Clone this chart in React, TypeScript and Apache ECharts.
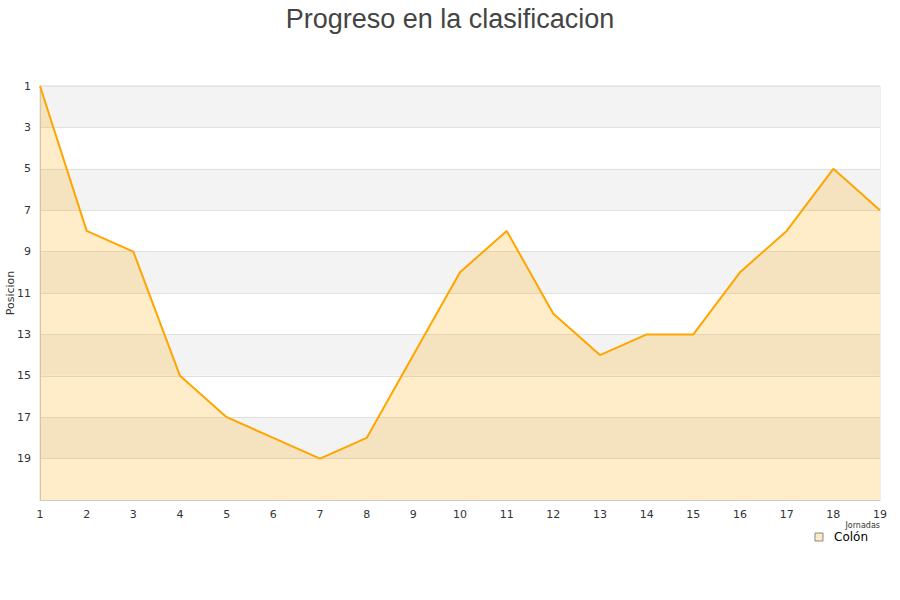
import React, { useEffect, useRef } from "react";
import * as echarts from "echarts";

const jornadas = ["1","2","3","4","5","6","7","8","9","10","11","12","13","14","15","16","17","18","19"];
const posiciones = [1, 8, 9, 15, 17, 18, 19, 18, 14, 10, 8, 12, 14, 13, 13, 10, 8, 5, 7];
const seriesName = "Colón";
const titleText = "Progreso en la clasificacion";

export default function App() {
  const ref = useRef<HTMLDivElement>(null);
  useEffect(() => {
    if (!ref.current) return;
    const chart = echarts.init(ref.current, null, { renderer: "svg" });
    chart.setOption({
      animation: false,
      backgroundColor: "#ffffff",
      title: {
        text: titleText,
        left: "center",
        top: 0,
        textStyle: { fontFamily: "Liberation Sans", fontSize: 27, fontWeight: "normal", color: "#444444" },
      },
      grid: {
        left: 40, right: 20, top: 86, bottom: 100,
        outerBoundsMode: "none", containLabel: false,
        show: true, borderColor: "#dddddd", borderWidth: 1, backgroundColor: "transparent",
      },
      legend: {
        data: [{ name: seriesName, icon: "rect" }],
        right: 32,
        top: 531,
        itemWidth: 8,
        itemHeight: 8,
        itemGap: 5,
        padding: 0,
        textStyle: { fontFamily: "DejaVu Sans", fontSize: 12, color: "#000000", padding: [0, 0, 0, 6] },
        itemStyle: { color: "#fde9c4", borderColor: "#888888", borderWidth: 1 },
      },
      xAxis: {
        type: "category",
        data: jornadas,
        boundaryGap: false,
        name: "Jornadas",
        nameLocation: "end",
        nameGap: 0,
        nameMoveOverlap: false,
        nameTextStyle: { fontFamily: "DejaVu Sans", fontSize: 8, color: "#333", align: "right", verticalAlign: "top", padding: [21, 0, 0, 0] },
        axisLine: { show: true, lineStyle: { color: "#cccccc" } },
        axisTick: { show: false },
        axisLabel: { fontFamily: "DejaVu Sans", fontSize: 11, color: "#333333", margin: 9 },
        splitLine: { show: false },
      },
      yAxis: {
        type: "value",
        inverse: true,
        min: 1,
        max: 21,
        interval: 2,
        name: "Posicion",
        nameLocation: "middle",
        nameGap: 24,
        nameMoveOverlap: false,
        nameRotate: 90,
        nameTextStyle: { fontFamily: "DejaVu Sans", fontSize: 11, color: "#333333" },
        axisLine: { show: true, lineStyle: { color: "#cccccc" } },
        axisTick: { show: false },
        axisLabel: {
          fontFamily: "DejaVu Sans",
          fontSize: 11,
          color: "#333333",
          margin: 9,
          formatter: (v: number) => (v === 21 ? "" : String(v)),
        },
        splitLine: { show: true, lineStyle: { color: "#e0e0e0" } },
        splitArea: { show: true, areaStyle: { color: ["#f3f3f3", "#ffffff"] } },
      },
      series: [
        {
          name: seriesName,
          type: "line",
          data: posiciones,
          showSymbol: false,
          symbol: "none",
          lineStyle: { color: "#ffa500", width: 2 },
          itemStyle: { color: "#fde9c4" },
          areaStyle: { origin: "end", color: "rgba(255,165,0,0.21)", opacity: 1 },
        },
      ],
    });
    return () => chart.dispose();
  }, []);
  return <div ref={ref} style={{ width: 900, height: 600, position: "absolute", left: 0, top: 0 }} />;
}
